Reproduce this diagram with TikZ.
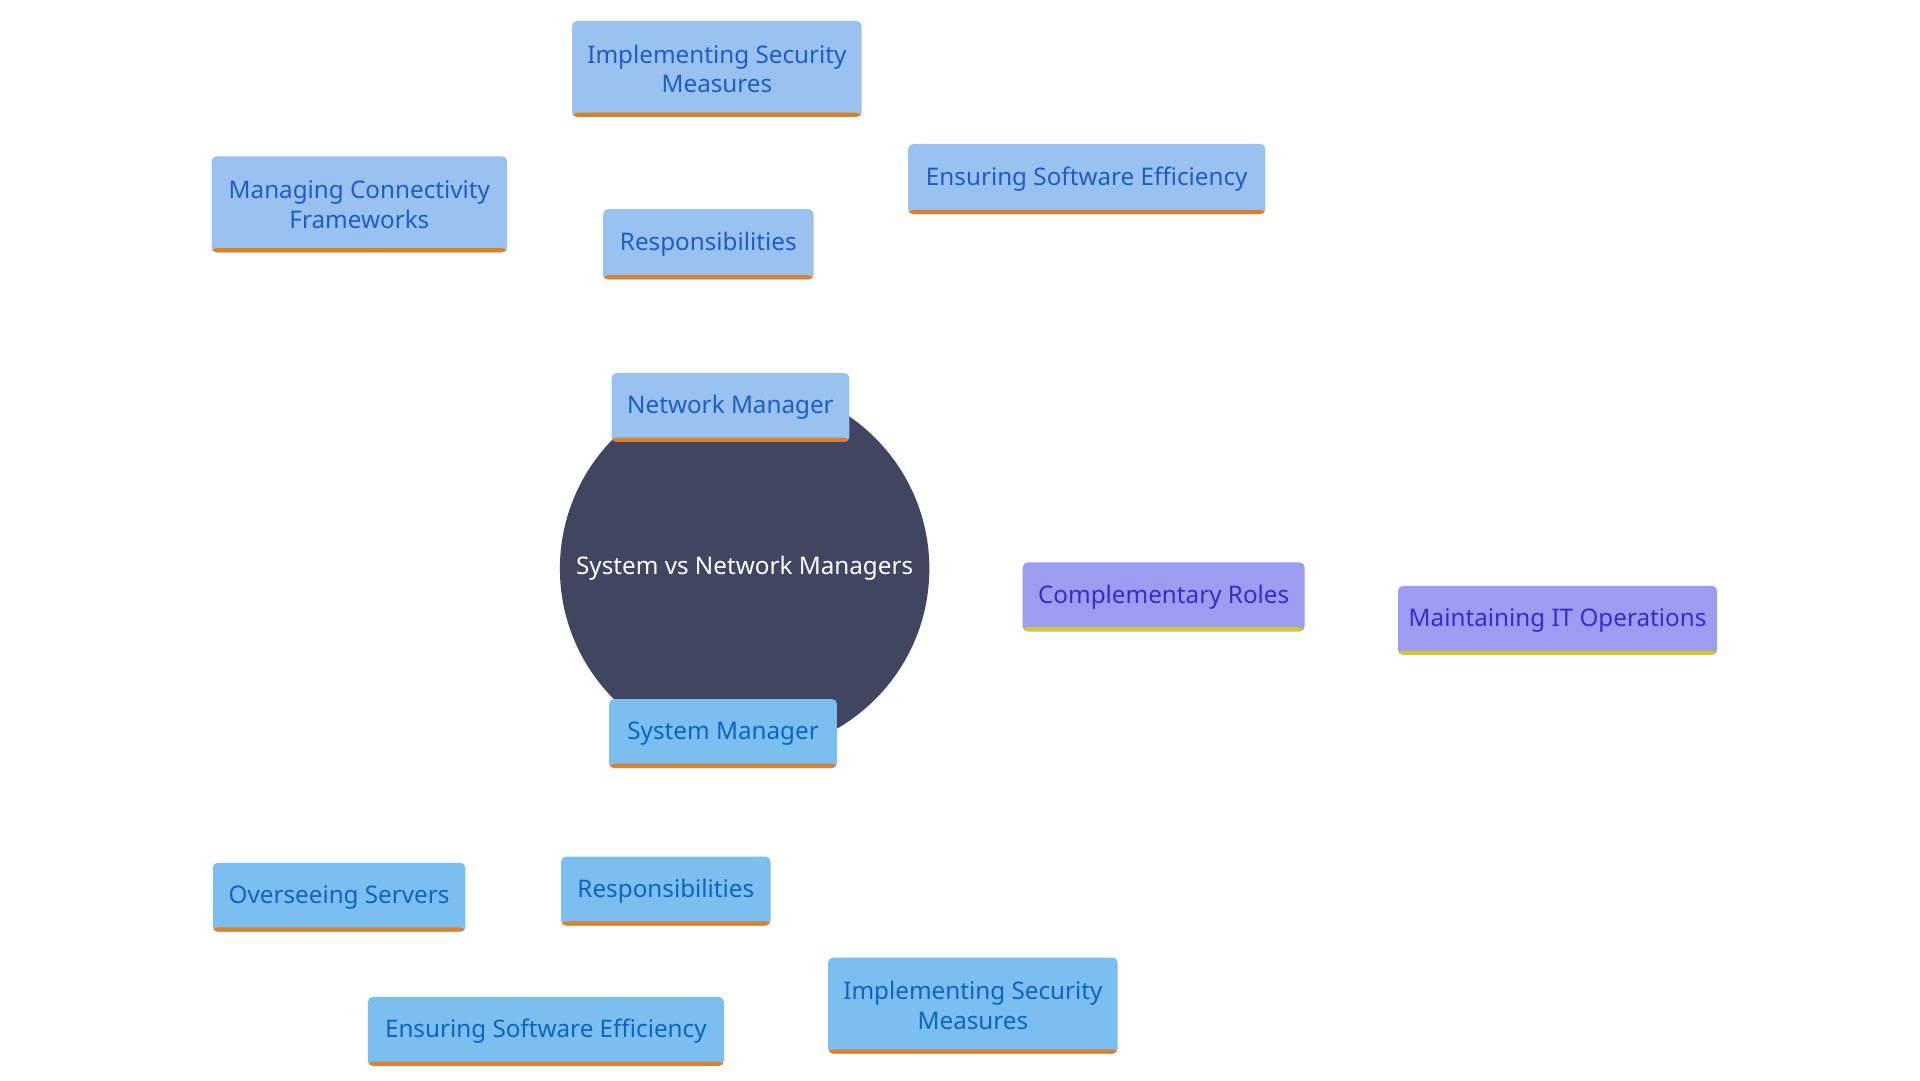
\documentclass[tikz,border=0pt]{standalone}
\usepackage{fontspec}
\setmainfont{Noto Sans}
\usetikzlibrary{backgrounds}
\definecolor{hubfill}{HTML}{404660}
\definecolor{netfill}{HTML}{9AC2F0}
\definecolor{nettext}{HTML}{1F5CC4}
\definecolor{sysfill}{HTML}{7BBFF0}
\definecolor{systext}{HTML}{0F64BE}
\definecolor{rolefill}{HTML}{9A9DF0}
\definecolor{roletext}{HTML}{3A2BC8}
\definecolor{orangebar}{HTML}{DA812B}
\definecolor{yellowbar}{HTML}{D4C72A}
\tikzset{
    topic/.style n args={3}{
        rectangle, rounded corners=0.04cm, fill=#1, text=#2,
        inner sep=0pt, align=center,
        font=\fontsize{5.6}{6.9}\selectfont,
        path picture={\fill[#3] ([yshift=0.035cm]path picture bounding box.south west)
            rectangle (path picture bounding box.south east);}
    },
    netbox/.style={topic={netfill}{nettext}{orangebar}},
    sysbox/.style={topic={sysfill}{systext}{orangebar}},
    rolebox/.style={topic={rolefill}{roletext}{yellowbar}},
    link/.style={line width=1.2pt},
}
\begin{document}
\begin{tikzpicture}[x=0.01cm, y=-0.01cm]
\useasboundingbox[fill=white] (0,0) rectangle (1560,877.5);

% Hub
\node[circle, fill=hubfill, minimum size=3cm, text=white,
      font=\fontsize{5.6}{6.9}\selectfont] (hub) at (605,462) {System vs Network Managers};

% Network side
\node[netbox, minimum width=1.93cm, minimum height=0.56cm] (netmgr) at (593.5,331) {Network Manager};
\node[netbox, minimum width=1.71cm, minimum height=0.57cm] (netresp) at (575.5,198.5) {Responsibilities};
\node[netbox, minimum width=2.35cm, minimum height=0.78cm] (netsec) at (582.5,56) {Implementing Security\\Measures};
\node[netbox, minimum width=2.40cm, minimum height=0.78cm] (netconn) at (292,166) {Managing Connectivity\\Frameworks};
\node[netbox, minimum width=2.90cm, minimum height=0.57cm] (neteff) at (883,145.5) {Ensuring Software Efficiency};

% Complementary roles
\node[rolebox, minimum width=2.29cm, minimum height=0.56cm] (roles) at (945.5,485) {Complementary Roles};
\node[rolebox, minimum width=2.59cm, minimum height=0.56cm] (itops) at (1265.5,504) {Maintaining IT Operations};

% System side
\node[sysbox, minimum width=1.85cm, minimum height=0.56cm] (sysmgr) at (587.5,596) {System Manager};
\node[sysbox, minimum width=1.70cm, minimum height=0.56cm] (sysresp) at (541,724) {Responsibilities};
\node[sysbox, minimum width=2.05cm, minimum height=0.56cm] (sysserv) at (275.5,729) {Overseeing Servers};
\node[sysbox, minimum width=2.89cm, minimum height=0.56cm] (syseff) at (443.5,838) {Ensuring Software Efficiency};
\node[sysbox, minimum width=2.35cm, minimum height=0.78cm] (syssec) at (790.5,817) {Implementing Security\\Measures};

% Links
\begin{scope}[on background layer]
\draw[link, netfill] (hub) -- (netmgr);
\draw[link, netfill] (netmgr.north) -- (netresp.south);
\draw[link, netfill] (netresp) -- (netsec);
\draw[link, netfill] (netresp) -- (netconn);
\draw[link, netfill] (netresp) -- (neteff);
\draw[link, rolefill] (hub.center) -- (roles.center);
\draw[link, rolefill] (roles) -- (itops);
\draw[link, sysfill] (hub) -- (sysmgr);
\draw[link, sysfill] (sysmgr) -- (sysresp);
\draw[link, sysfill] (sysresp) -- (sysserv);
\draw[link, sysfill] (sysresp) -- (syseff);
\draw[link, sysfill] (sysresp) -- (syssec);
\end{scope}
\end{tikzpicture}
\end{document}
